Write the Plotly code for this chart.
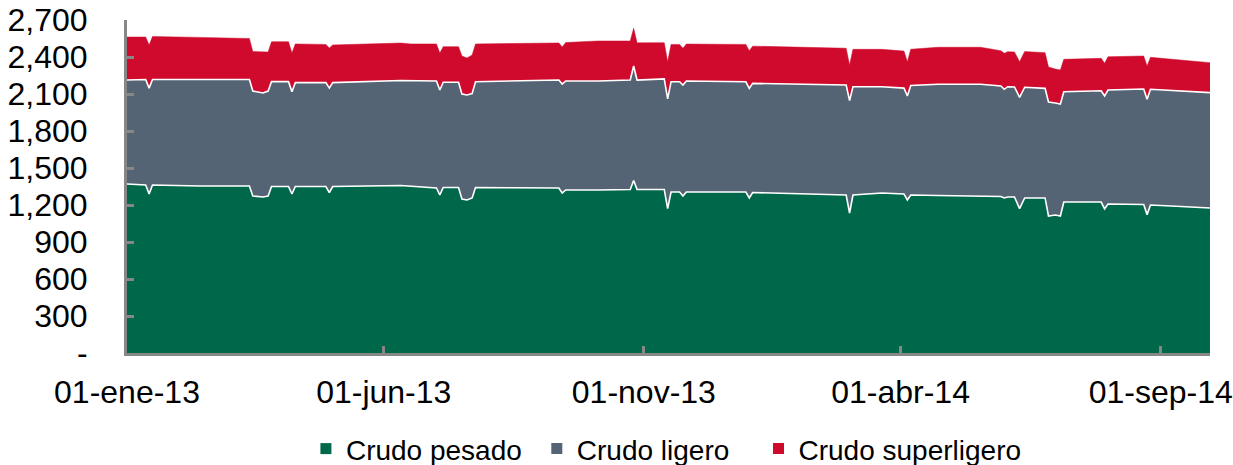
import plotly.graph_objects as go

dates = ["2013-01-01","2013-01-12","2013-01-14","2013-01-16","2013-02-13","2013-03-14","2013-03-16","2013-03-22","2013-03-25","2013-03-27",
"2013-04-06","2013-04-08","2013-04-10","2013-04-28","2013-04-30","2013-05-02","2013-06-11","2013-06-17","2013-07-02","2013-07-04",
"2013-07-06","2013-07-15","2013-07-17","2013-07-20","2013-07-23","2013-07-25","2013-08-21","2013-09-12","2013-09-14","2013-09-16",
"2013-10-05","2013-10-24","2013-10-26","2013-10-28","2013-11-13","2013-11-15","2013-11-17","2013-11-22","2013-11-24","2013-11-26",
"2013-12-31","2014-01-02","2014-01-04","2014-02-01","2014-02-28","2014-03-02","2014-03-04","2014-03-21","2014-04-03","2014-04-05",
"2014-04-07","2014-04-23","2014-05-18","2014-05-30","2014-06-01","2014-06-03","2014-06-07","2014-06-10","2014-06-13","2014-06-25",
"2014-06-27","2014-07-01","2014-07-04","2014-07-06","2014-07-28","2014-07-30","2014-08-01","2014-08-22","2014-08-24","2014-08-26",
"2014-09-13","2014-09-25","2014-09-30"]

crudo_pesado = [1370,1362,1289,1362,1354,1354,1273,1265,1273,1350,
1350,1289,1350,1350,1301,1350,1358,1354,1338,1281,
1342,1342,1249,1241,1257,1342,1342,1338,1297,1322,
1322,1326,1399,1327,1326,1171,1305,1305,1273,1305,
1305,1257,1301,1293,1281,1135,1281,1297,1289,1241,
1281,1277,1273,1269,1257,1265,1265,1171,1257,1257,
1111,1119,1111,1224,1224,1168,1208,1204,1122,1200,
1188,1176,1176]

crudo_ligero = [843,855,859,855,864,864,851,843,851,850,
850,829,842,842,847,842,851,854,868,851,
853,853,851,851,847,858,864,876,884,884,
884,888,928,886,896,889,894,894,900,900,
894,889,885,888,892,911,878,862,859,843,
888,902,906,896,881,894,892,902,898,889,
924,908,908,894,902,916,924,936,935,938,
936,935,935]

crudo_superligero = [349,345,349,349,341,332,320,332,316,324,
324,314,314,310,324,306,304,298,300,300,
289,289,308,300,312,306,304,300,300,311,
324,316,306,302,294,302,303,303,298,300,
303,305,302,300,298,289,303,303,300,278,
294,300,300,286,292,284,284,289,289,289,
284,276,276,263,263,265,270,268,270,259,
251,249,243]

series_names = ["Crudo pesado", "Crudo ligero", "Crudo superligero"]
colors = ["#00684A", "#546474", "#CF0A2C"]

x_tick_vals = ["2013-01-01", "2013-06-01", "2013-11-01", "2014-04-01", "2014-09-01"]
x_tick_text = ["01-ene-13", "01-jun-13", "01-nov-13", "01-abr-14", "01-sep-14"]
y_tick_vals = [0, 300, 600, 900, 1200, 1500, 1800, 2100, 2400, 2700]
y_tick_text = ["-", "300", "600", "900", "1,200", "1,500", "1,800", "2,100", "2,400", "2,700"]

fig = go.Figure()
data = [crudo_pesado, crudo_ligero, crudo_superligero]
for i, (name, vals) in enumerate(zip(series_names, data)):
    line_color = "white" if i < 2 else colors[i]
    fig.add_trace(go.Scatter(
        x=dates, y=vals, name=name, mode="lines", stackgroup="one",
        fillcolor=colors[i], line=dict(color=line_color, width=1.6 if i < 2 else 0.5),
        showlegend=False, hoverinfo="x+y+name"))

legend_ids = ["legend", "legend2", "legend3"]
legend_x = [0.1652, 0.3784, 0.5831]
for name, c, lid in zip(series_names, colors, legend_ids):
    fig.add_trace(go.Scatter(
        x=[None], y=[None], name=name, mode="markers", legend=lid,
        marker=dict(symbol="square", size=11, color=c), showlegend=True))

font_family = "Liberation Sans, Arial, sans-serif"
legend_common = dict(orientation="h", yanchor="middle", y=-0.288, xanchor="left",
                     font=dict(size=28, family=font_family, color="black"),
                     itemwidth=30, bgcolor="rgba(0,0,0,0)", borderwidth=0)
fig.update_layout(
    width=1233, height=465,
    margin=dict(l=127, r=23, t=20, b=112, autoexpand=False),
    plot_bgcolor="white", paper_bgcolor="white",
    font=dict(family=font_family, color="black", size=32),
    showlegend=True,
    legend=dict(x=legend_x[0], **legend_common),
    legend2=dict(x=legend_x[1], **legend_common),
    legend3=dict(x=legend_x[2], **legend_common),
)
fig.update_xaxes(
    type="date", range=["2013-01-01", "2014-09-30"],
    tickvals=x_tick_vals, ticktext=x_tick_text,
    showgrid=False, zeroline=False, automargin=False,
    showline=True, linecolor="#878787", linewidth=3,
    ticks="inside", ticklen=7, tickwidth=3, tickcolor="#878787",
    tickfont=dict(size=32), ticklabelstandoff=9,
)
fig.update_yaxes(
    range=[0, 2700], tickvals=y_tick_vals, ticktext=y_tick_text,
    showgrid=False, zeroline=False, automargin=False,
    showline=True, linecolor="#878787", linewidth=3,
    ticks="inside", ticklen=7, tickwidth=3, tickcolor="#878787",
    tickfont=dict(size=32), ticklabelstandoff=30,
)

fig.write_html("out.html", config={"displayModeBar": False},
               post_script="document.body.style.margin='0';")
